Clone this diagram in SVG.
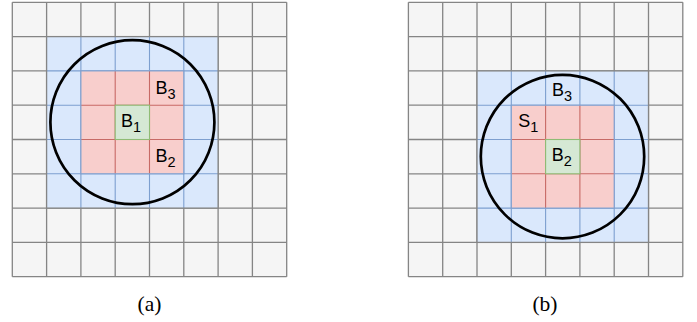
<svg xmlns="http://www.w3.org/2000/svg" width="697" height="322" viewBox="0 0 697 322">
<style>
.gbg{fill:#f5f5f5}
.gl{fill:none;stroke:#858585;stroke-width:1.3}
.bbg{fill:#dae8fc}
.bl{fill:none;stroke:#7d9fcf;stroke-width:1.1}
.rbg{fill:#f8cecc}
.rl{fill:none;stroke:#c76a66;stroke-width:1.1}
.grn{fill:#d5e8d4;stroke:#8fbc75;stroke-width:1.1}
.circ{fill:none;stroke:#000;stroke-width:2.7}
.lbl{font-family:"Liberation Sans",Arial,Helvetica,sans-serif;font-size:18px;fill:#000;text-anchor:middle}
.sub{font-size:14.5px}
.cap{font-family:"Liberation Serif","Times New Roman",serif;font-size:21.5px;fill:#000;text-anchor:middle}
</style>
<defs>
<path id="grid8" class="gl" d="M0,0H274.4M0,34.3H274.4M0,68.6H274.4M0,102.9H274.4M0,137.2H274.4M0,171.5H274.4M0,205.8H274.4M0,240.1H274.4M0,274.4H274.4M0,0V274.4M34.3,0V274.4M68.6,0V274.4M102.9,0V274.4M137.2,0V274.4M171.5,0V274.4M205.8,0V274.4M240.1,0V274.4M274.4,0V274.4"/>
</defs>

<g id="figure-a" transform="translate(12.3,2.3)">
  <rect class="gbg" x="0" y="0" width="274.4" height="274.4"/>
  <use href="#grid8"/>
  <g id="a-blue">
    <rect class="bbg" x="34.3" y="34.3" width="171.5" height="171.5"/>
    <path class="bl" d="M68.6,34.3V205.8M102.9,34.3V205.8M137.2,34.3V205.8M171.5,34.3V205.8M34.3,68.6H205.8M34.3,102.9H205.8M34.3,137.2H205.8M34.3,171.5H205.8"/>
    <rect class="gl" x="34.3" y="34.3" width="171.5" height="171.5"/>
  </g>
  <g id="a-red">
    <rect class="rbg" x="68.6" y="68.6" width="102.9" height="102.9"/>
    <path class="rl" d="M102.9,68.6V171.5M137.2,68.6V171.5M68.6,102.9H171.5M68.6,137.2H171.5"/>
    <rect class="bl" x="68.6" y="68.6" width="102.9" height="102.9"/>
  </g>
  <rect id="a-green" class="grn" x="102.9" y="102.9" width="34.3" height="34.3"/>
  <circle id="a-circle" class="circ" cx="120.1" cy="119.9" r="82"/>
</g>
<g id="labels-a">
  <text class="lbl" x="165.5" y="93.5">B<tspan class="sub" dy="5">3</tspan></text>
  <text class="lbl" x="131" y="126.5">B<tspan class="sub" dy="5">1</tspan></text>
  <text class="lbl" x="165.5" y="161.7">B<tspan class="sub" dy="5">2</tspan></text>
  <text class="cap" x="149.5" y="310.7">(a)</text>
</g>

<g id="figure-b" transform="translate(408.4,2.3)">
  <rect class="gbg" x="0" y="0" width="274.4" height="274.4"/>
  <use href="#grid8"/>
  <g id="b-blue">
    <rect class="bbg" x="68.6" y="68.6" width="171.5" height="171.5"/>
    <path class="bl" d="M102.9,68.6V240.1M137.2,68.6V240.1M171.5,68.6V240.1M205.8,68.6V240.1M68.6,102.9H240.1M68.6,137.2H240.1M68.6,171.5H240.1M68.6,205.8H240.1"/>
    <rect class="gl" x="68.6" y="68.6" width="171.5" height="171.5"/>
  </g>
  <g id="b-red">
    <rect class="rbg" x="102.9" y="102.9" width="102.9" height="102.9"/>
    <path class="rl" d="M137.2,102.9V205.8M171.5,102.9V205.8M102.9,137.2H205.8M102.9,171.5H205.8"/>
    <rect class="bl" x="102.9" y="102.9" width="102.9" height="102.9"/>
  </g>
  <rect id="b-green" class="grn" x="137.2" y="137.2" width="34.3" height="34.3"/>
  <circle id="b-circle" class="circ" cx="154.1" cy="154.3" r="81.7"/>
</g>
<g id="labels-b">
  <text class="lbl" x="562" y="96">B<tspan class="sub" dy="5">3</tspan></text>
  <text class="lbl" x="528.3" y="126.7">S<tspan class="sub" dy="5">1</tspan></text>
  <text class="lbl" x="561.8" y="160.7">B<tspan class="sub" dy="5">2</tspan></text>
  <text class="cap" x="545" y="310.7">(b)</text>
</g>
</svg>
